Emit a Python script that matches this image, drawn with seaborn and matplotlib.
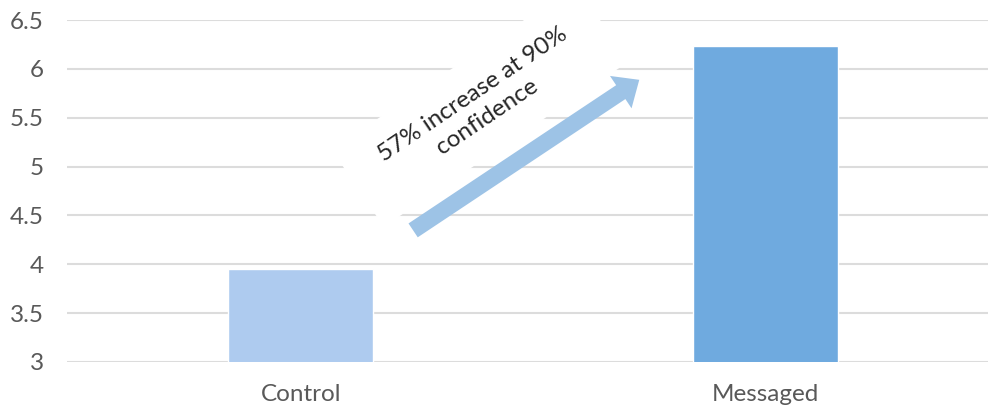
import matplotlib
matplotlib.use('Agg')
import matplotlib.pyplot as plt
from matplotlib.patches import Rectangle
from matplotlib.transforms import IdentityTransform
import seaborn as sns

groups = ['Control', 'Messaged']
scores = [3.95, 6.23]
bar_colors = ['#AECBEF', '#6FAADF']
y_ticks = [3, 3.5, 4, 4.5, 5, 5.5, 6, 6.5]
y_tick_labels = ['3', '3.5', '4', '4.5', '5', '5.5', '6', '6.5']
note = '57% increase at 90%\nconfidence'

sns.set_style('white')
plt.rcParams['font.family'] = ['Lato', 'DejaVu Sans']

fig = plt.figure(figsize=(9.88, 4.12), dpi=100)
ax = fig.add_axes([0.068, 0.1214, 0.932, 0.830])

sns.barplot(x=groups, y=scores, hue=groups, palette=bar_colors, width=0.312,
            saturation=1, legend=False, ax=ax)

ax.set_ylim(3, 6.5)
ax.set_xlim(-0.503, 1.48)
ax.set_yticks(y_ticks, y_tick_labels)
ax.yaxis.grid(True, color='#dcdcdc', linewidth=1.5)
ax.xaxis.grid(False)
ax.set_axisbelow(True)
for s in ax.spines.values():
    s.set_visible(False)
ax.tick_params(axis='y', length=0, labelsize=17.5, labelcolor='#595959', pad=17)
ax.tick_params(axis='x', length=0, labelsize=17.5, labelcolor='#595959', pad=16)
ax.set_xlabel('')
ax.set_ylabel('')

# arrow from control up to messaged
ax.annotate('', xy=(0.729, 5.888), xytext=(0.242, 4.347),
            arrowprops=dict(arrowstyle='simple,head_length=16,head_width=28,tail_width=12',
                            mutation_scale=1, color='#9DC3E6', lw=0,
                            shrinkA=0, shrinkB=0),
            zorder=5)

# white text box (rotated, in pixels)
note_x, note_y = 0.386, 5.622
cx, cy = ax.transData.transform((note_x, note_y))
box_w, box_h = 295, 93
ax.add_patch(Rectangle((cx - box_w / 2, cy - box_h / 2), box_w, box_h, angle=34,
                       rotation_point='center', transform=IdentityTransform(),
                       fc='white', ec='none', zorder=3))

ax.text(note_x, note_y, note, rotation=34, rotation_mode='anchor', ha='center', va='center',
        multialignment='center', linespacing=1.35, fontsize=17.5, color='#262626', zorder=4)

fig.savefig('out.png', dpi=100)
